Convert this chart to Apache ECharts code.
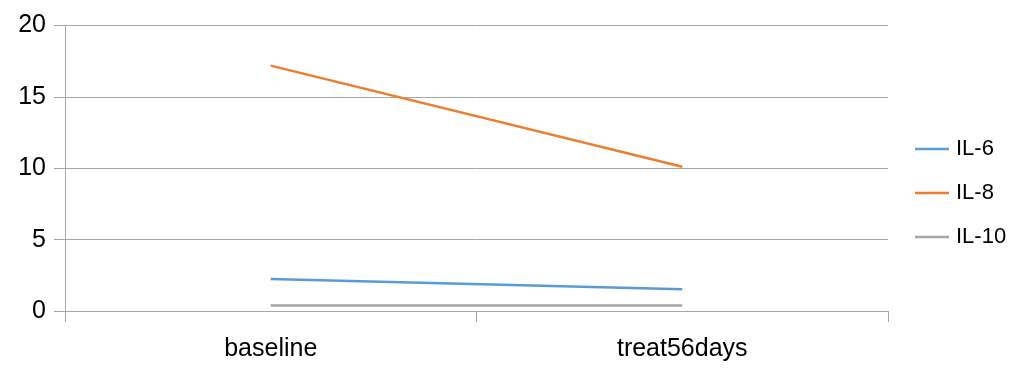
<!DOCTYPE html>
<html>
<head>
<meta charset="utf-8">
<script src="https://cdn.jsdelivr.net/npm/echarts@6/dist/echarts.min.js"></script>
<style>html,body{margin:0;padding:0;background:#fff;}#c{width:1035px;height:382px;}</style>
</head>
<body>
<div id="c"></div>
<script>
const categories = ['baseline', 'treat56days'];
const il6 = [2.24, 1.52];
const il8 = [17.19, 10.11];
const il10 = [0.38, 0.38];
const yTicks = [0, 5, 10, 15, 20];

const font = 'Liberation Sans';
const chart = echarts.init(document.getElementById('c'));
const mk = (name, data, color) => ({
  name, type: 'line', data, symbol: 'none',
  lineStyle: { color, width: 2.5 }, itemStyle: { color }
});
chart.setOption({
  animation: false,
  grid: { left: 65, right: 147, top: 25.5, bottom: 71 },
  xAxis: {
    type: 'category', data: categories, boundaryGap: true,
    axisLine: { lineStyle: { color: '#a6a6a6', width: 1 } },
    axisTick: { show: true, length: 11, lineStyle: { color: '#a6a6a6' } },
    axisLabel: { color: '#000', fontFamily: font, fontSize: 25, margin: 26 }
  },
  yAxis: {
    type: 'value', min: yTicks[0], max: yTicks[yTicks.length - 1], interval: 5,
    axisLine: { show: true, lineStyle: { color: '#a6a6a6', width: 1 } },
    axisTick: { show: true, length: 11, lineStyle: { color: '#a6a6a6' } },
    splitLine: { lineStyle: { color: '#a6a6a6', width: 1 } },
    axisLabel: { color: '#000', fontFamily: font, fontSize: 25, margin: 19 }
  },
  legend: {
    orient: 'vertical', left: 910, top: 133, icon: 'rect',
    itemWidth: 34, itemHeight: 2.5, itemGap: 22,
    textStyle: { color: '#000', fontFamily: font, fontSize: 22, lineHeight: 22, padding: [0, 0, 0, 2] },
    data: ['IL-6', 'IL-8', 'IL-10']
  },
  series: [
    mk('IL-6', il6, '#5B9BD5'),
    mk('IL-8', il8, '#ED7D31'),
    mk('IL-10', il10, '#A5A5A5')
  ]
});
</script>
</body>
</html>
